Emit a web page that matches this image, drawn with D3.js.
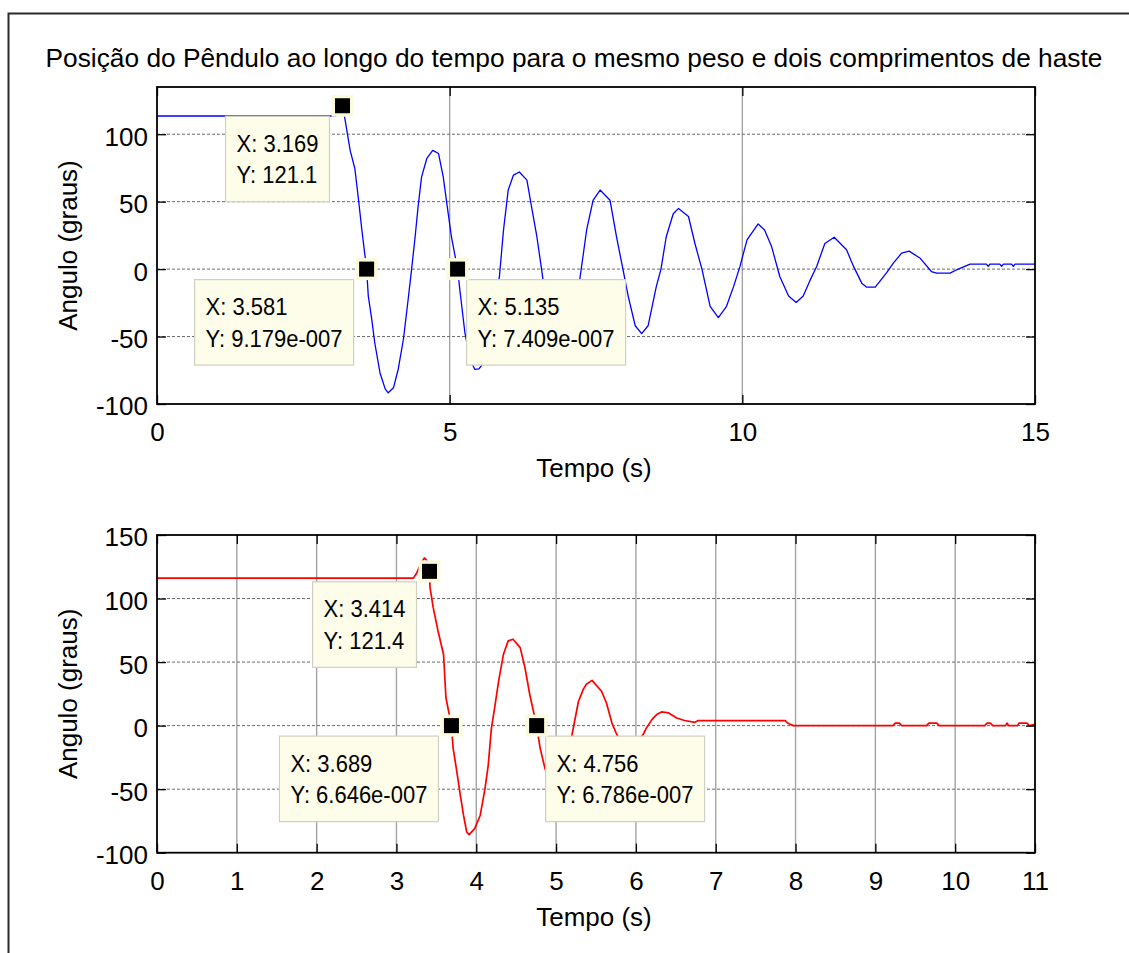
<!DOCTYPE html>
<html><head><meta charset="utf-8">
<script src="https://cdn.jsdelivr.net/npm/d3@7"></script>
<style>
body{margin:0;background:#fff}
svg{display:block}
text{font-family:"Liberation Sans",Arial,Helvetica,sans-serif;fill:#000}
</style>
</head><body>
<svg id="c" width="1129" height="953"></svg>
<script>
// ---------- data ----------
const titleText = "Posição do Pêndulo ao longo do tempo para o mesmo peso e dois comprimentos de haste";
const xLabelText = "Tempo (s)";
const yLabelText = "Angulo (graus)";

// top panel (longer rod)
const topTime  = [0,3.05,3.12,3.169,3.21,3.30,3.38,3.44,3.50,3.581,3.61,3.67,3.72,3.81,3.90,3.95,4.04,4.12,4.21,4.29,4.35,4.41,4.46,4.52,4.61,4.71,4.81,4.89,4.96,5.03,5.135,5.18,5.26,5.35,5.43,5.50,5.58,5.70,5.78,5.85,5.92,6.0,6.09,6.19,6.32,6.40,6.49,6.57,6.65,6.76,6.90,7.02,7.13,7.23,7.34,7.45,7.57,7.74,7.85,7.96,8.05,8.17,8.28,8.39,8.53,8.61,8.70,8.82,8.91,9.08,9.19,9.31,9.45,9.59,9.73,9.85,9.96,10.08,10.27,10.38,10.50,10.64,10.79,10.92,11.04,11.16,11.27,11.41,11.57,11.78,11.90,12.04,12.12,12.27,12.46,12.58,12.72,12.85,13.04,13.23,13.32,13.55,13.66,13.89,14.17,14.20,14.23,14.40,14.43,14.46,14.60,14.63,14.66,15];
const topAngle = [113.5,113.5,116.5,121.1,111.6,88,74.6,52.5,29,0,-20,-37.5,-54.6,-77,-89,-91.7,-88,-74.4,-52,-22.7,0,24,46,68.4,82,88,85.7,68.4,46,24,0,-17.7,-47,-67,-74.4,-74,-69.5,-45,-22,-5.5,29,58.6,69.7,72,66,46,24,0,-25,-50,-61,-52,-30,-5.5,29,51,58.6,51,24,0,-20,-42,-47.8,-42,-13,0,24,41,45,39,19,0,-27.6,-36,-27.6,-13,2,21.7,33.5,29,16.7,-5.5,-20,-24.7,-20,-8,2,19,23.6,14.3,2,-10.4,-13.3,-13.3,-3,4.4,11.8,13.3,8,-1.8,-3,-3,-0.5,3.7,3.7,2,3.7,3.7,2,3.7,3.7,2,3.7,3.7];
const topXTicks = [0,5,10,15];
const topYTicks = [-100,-50,0,50,100];
const topXDomain = [0,15];
const topYDomain = [-100,135];
const topTipX = [3.169,3.581,5.135];
const topTipY = [121.1,9.179e-7,7.409e-7];
const topTipXText = ["X: 3.169","X: 3.581","X: 5.135"];
const topTipYText = ["Y: 121.1","Y: 9.179e-007","Y: 7.409e-007"];
const topTipSide = ["left","left","right"];

// bottom panel (shorter rod)
const botTime  = [0,3.21,3.25,3.30,3.35,3.38,3.414,3.42,3.46,3.52,3.59,3.62,3.689,3.71,3.75,3.80,3.84,3.88,3.91,3.98,4.05,4.11,4.15,4.19,4.23,4.28,4.34,4.40,4.46,4.55,4.61,4.67,4.756,4.80,4.86,4.93,4.99,5.06,5.13,5.20,5.24,5.28,5.34,5.38,5.45,5.57,5.63,5.70,5.76,5.85,5.93,6.01,6.09,6.13,6.20,6.26,6.32,6.41,6.51,6.61,6.74,6.78,7.87,7.90,7.97,9.22,9.25,9.30,9.33,9.64,9.67,9.77,9.80,10.37,10.40,10.44,10.47,10.63,10.65,10.67,10.78,10.80,10.90,10.93,11];
const botAngle = [116,116,119.5,127,132,130,121.4,109,93,74.7,56,21.9,0,-17.7,-33.6,-54.6,-70.5,-83.7,-85.8,-81,-70.5,-49.4,-31,-2,14,35,56,66.7,68,61.4,45.6,24.5,0,-17.7,-33.6,-46,-50,-44,-25,-7,6,19,28.5,32.5,35.6,27,18,2,-7,-15,-19,-14,-7,-2,4.7,8.7,10.8,10,6,4,2.6,4,4,2,0,0,2,2,0,0,2,2,0,0,2,2,0,0,2,0,0,2,2,0,1];
const botXTicks = [0,1,2,3,4,5,6,7,8,9,10,11];
const botYTicks = [-100,-50,0,50,100,150];
const botXDomain = [0,11];
const botYDomain = [-100,150];
const botTipX = [3.414,3.689,4.756];
const botTipY = [121.4,6.646e-7,6.786e-7];
const botTipXText = ["X: 3.414","X: 3.689","X: 4.756"];
const botTipYText = ["Y: 121.4","Y: 6.646e-007","Y: 6.786e-007"];
const botTipSide = ["left","left","right"];

// ---------- drawing ----------
const svg = d3.select("#c");
const FONT = 26;
const fmt = d => String(d);   // plain hyphen minus, as in the original

// outer figure frame (continues beyond the picture on right/bottom)
svg.append("rect").attr("x",8.5).attr("y",13.5).attr("width",1300).attr("height",1100)
  .attr("fill","none").attr("stroke","#2b2b2b").attr("stroke-width",2);

svg.append("text").attr("x",574).attr("y",67).attr("text-anchor","middle")
  .style("font-size","26.3px").text(titleText);

function panel(cfg){
  const {l,r,t,b} = cfg.box;
  const x = d3.scaleLinear().domain(cfg.xDomain).range([l,r]);
  const y = d3.scaleLinear().domain(cfg.yDomain).range([b,t]);
  const g = svg.append("g");

  // grid
  g.append("g").selectAll("line").data(cfg.xTicks.filter(v=>v>cfg.xDomain[0]&&v<cfg.xDomain[1]))
    .join("line").attr("x1",d=>x(d)).attr("x2",d=>x(d)).attr("y1",t).attr("y2",b)
    .attr("stroke","#a3a3a3").attr("stroke-width",1.4);
  g.append("g").selectAll("line").data(cfg.yTicks.filter(v=>v>cfg.yDomain[0]&&v<cfg.yDomain[1]))
    .join("line").attr("x1",l).attr("x2",r).attr("y1",d=>y(d)).attr("y2",d=>y(d))
    .attr("stroke","#6a6a6a").attr("stroke-width",1).attr("stroke-dasharray","3,2");

  // data line
  const pts = cfg.time.map((tv,i)=>[tv,cfg.angle[i]]);
  g.append("path").datum(pts)
    .attr("d",d3.line().x(d=>x(d[0])).y(d=>y(d[1])))
    .attr("fill","none").attr("stroke",cfg.color).attr("stroke-width",cfg.lw)
    .attr("stroke-linejoin","round");

  // axes
  const styleAxis = sel => {
    sel.attr("font-family",null).attr("font-size",null);
    sel.select(".domain").attr("stroke","none");
    sel.selectAll(".tick line").attr("stroke","#000").attr("stroke-width",1.3);
    sel.selectAll(".tick text").style("font-size",FONT+"px");
  };
  const ax = g.append("g").attr("transform",`translate(0,${b})`)
    .call(d3.axisBottom(x).tickValues(cfg.xTicks).tickFormat(fmt).tickSize(-9).tickPadding(18.5));
  styleAxis(ax);
  const ay = g.append("g").attr("transform",`translate(${l},0)`)
    .call(d3.axisLeft(y).tickValues(cfg.yTicks).tickFormat(fmt).tickSize(-9).tickPadding(9));
  styleAxis(ay);
  ay.selectAll(".tick text").attr("dy","0.42em");
  const at = g.append("g").attr("transform",`translate(0,${t})`)
    .call(d3.axisTop(x).tickValues(cfg.xTicks).tickFormat("").tickSize(-9));
  styleAxis(at);
  const ar = g.append("g").attr("transform",`translate(${r},0)`)
    .call(d3.axisRight(y).tickValues(cfg.yTicks).tickFormat("").tickSize(-9));
  styleAxis(ar);

  // axes box
  g.append("rect").attr("x",l).attr("y",t).attr("width",r-l).attr("height",b-t)
    .attr("fill","none").attr("stroke","#000").attr("stroke-width",1.8);

  // labels
  g.append("text").attr("x",594).attr("y",b+73).attr("text-anchor","middle")
    .style("font-size",FONT+"px").text(xLabelText);
  g.append("text").attr("transform",`translate(77,${(t+b)/2}) rotate(-90)`).attr("text-anchor","middle")
    .style("font-size",FONT+"px").text(yLabelText);

  // data tips
  cfg.tipX.forEach((tx,i)=>{
    const mx = x(tx), my = y(cfg.tipY[i]);
    const tg = g.append("g");
    const rect = tg.append("rect");
    const t1 = tg.append("text").style("font-size","22px").text(cfg.tipXText[i]);
    const t2 = tg.append("text").style("font-size","22px").text(cfg.tipYText[i]);
    const w = Math.max(t1.node().getComputedTextLength(), t2.node().getComputedTextLength()) + 22;
    const h = 85.5;
    const bx = cfg.tipSide[i]==="left" ? mx - 13 - w : mx + 9;
    const by = my + 10.5;
    rect.attr("x",bx).attr("y",by).attr("width",w).attr("height",h)
      .attr("fill","#fdfde9").attr("stroke","#cfcfc4").attr("stroke-width",1.2);
    t1.attr("transform",`translate(${bx+11},${by+35.5}) scale(1,1.12)`);
    t2.attr("transform",`translate(${bx+11},${by+67}) scale(1,1.12)`);
    tg.append("rect").attr("x",mx-11).attr("y",my-11).attr("width",22).attr("height",22)
      .attr("fill","#fbfbdc");
    tg.append("rect").attr("x",mx-7.5).attr("y",my-7.5).attr("width",15).attr("height",15)
      .attr("fill","#000");
  });
}

panel({box:{l:157,r:1035,t:87,b:404}, xDomain:topXDomain, yDomain:topYDomain,
  xTicks:topXTicks, yTicks:topYTicks, time:topTime, angle:topAngle, color:"#0000ff", lw:1.3,
  tipX:topTipX, tipY:topTipY, tipXText:topTipXText, tipYText:topTipYText, tipSide:topTipSide});
panel({box:{l:157,r:1035,t:535,b:852.7}, xDomain:botXDomain, yDomain:botYDomain,
  xTicks:botXTicks, yTicks:botYTicks, time:botTime, angle:botAngle, color:"#ff0000", lw:1.7,
  tipX:botTipX, tipY:botTipY, tipXText:botTipXText, tipYText:botTipYText, tipSide:botTipSide});
</script>
</body></html>
